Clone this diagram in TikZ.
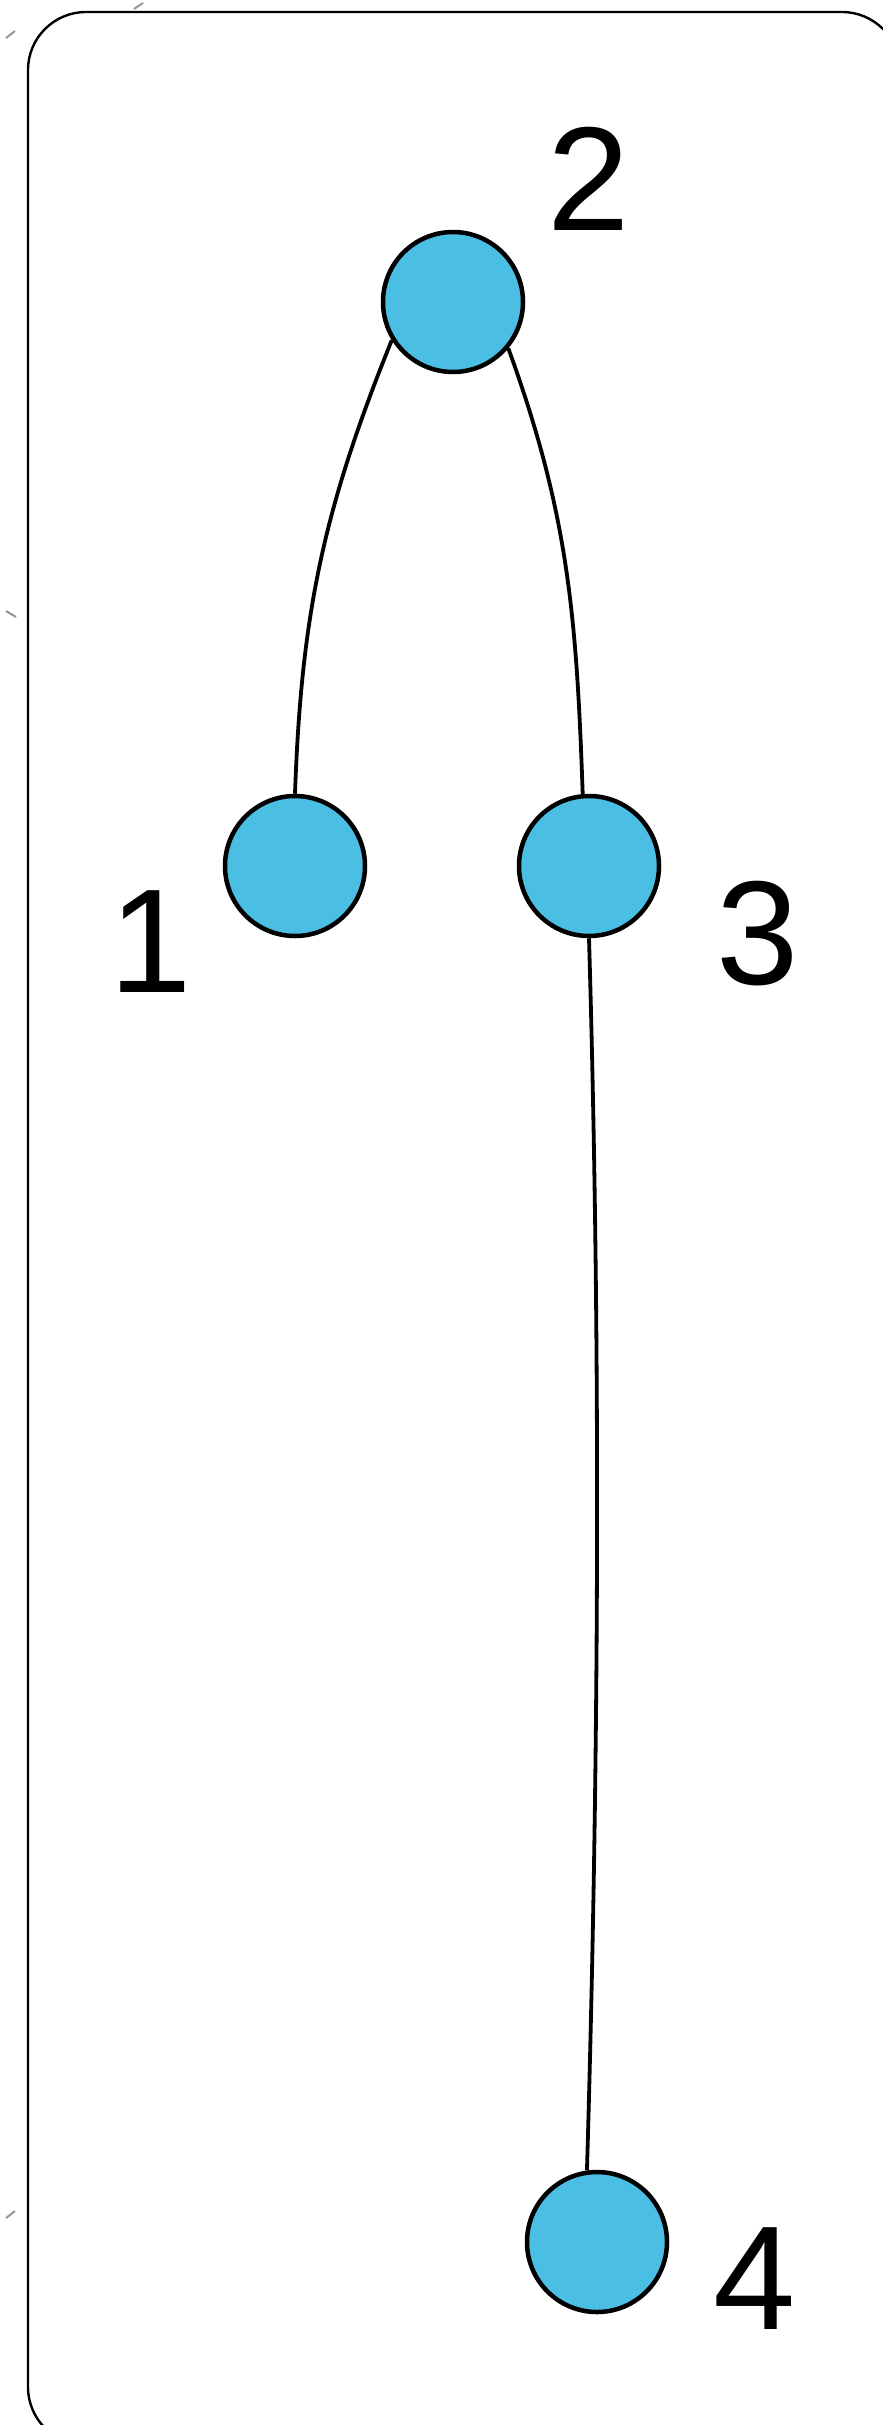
\documentclass[tikz,border=0pt]{standalone}
\usepackage{fontspec}
\setmainfont{Liberation Sans}
\definecolor{nodeblue}{RGB}{75,190,228}
\definecolor{tickgray}{RGB}{150,150,150}
\begin{document}
\begin{tikzpicture}[x=1pt,y=1pt,
  vtx/.style={circle,draw=black,line width=4.5pt,fill=nodeblue,minimum size=140pt,inner sep=0pt},
  lbl/.style={inner sep=0pt,font=\fontsize{148}{148}\selectfont},
  edge/.style={draw=black,line width=3.8pt},
  tick/.style={draw=tickgray,line width=2pt}]
\useasboundingbox (0,0) rectangle (883,-2425);
\fill[white] (0,0) rectangle (883,-2425);
% frame
\draw[line width=2.4pt,rounded corners=58pt] (28,-12) rectangle (900,-2445);
% gray ticks
\draw[tick] (134,-9) -- (143,-3);
\draw[tick] (6,-38) -- (15,-31);
\draw[tick] (6,-611) -- (16,-617);
\draw[tick] (6,-2218) -- (15,-2211);
% nodes
\node[vtx] (n2) at (453,-302) {};
\node[vtx] (n1) at (295,-866) {};
\node[vtx] (n3) at (589,-866) {};
\node[vtx] (n4) at (597,-2242) {};
% labels
\node[lbl] (l2) at (589,-179) {2};
\node[lbl] (l1) at (151,-942) {1};
\node[lbl] (l3) at (758,-934) {3};
\node[lbl] (l4) at (755,-2279) {4};
% edges
\draw[edge] (n2.212) to[out=248,in=88] (n1.north);
\draw[edge] (n2.320) to[out=290,in=92] (n3.95);
\draw[edge] (n3.south) .. controls (601,-1350) and (599,-1760) .. (n4.98);
\end{tikzpicture}
\end{document}
